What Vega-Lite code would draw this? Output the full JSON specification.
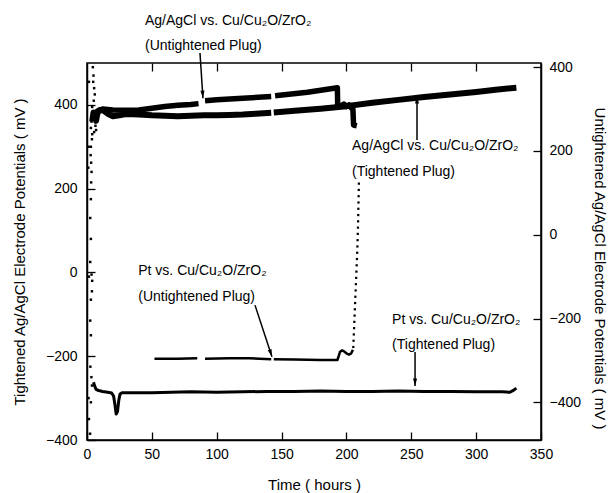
{
  "$schema": "https://vega.github.io/schema/vega-lite/v6.json",
  "width": 454,
  "height": 377,
  "autosize": "none",
  "padding": {"left": 87, "top": 63, "right": 71, "bottom": 53},
  "background": "white",
  "config": {
    "view": {"stroke": "black", "strokeWidth": 1.5},
    "axis": {
      "labelFont": "Liberation Sans", "labelFontSize": 14, "labelColor": "black",
      "titleFont": "Liberation Sans", "titleFontSize": 15, "titleFontWeight": "normal", "titleColor": "black",
      "tickColor": "black", "tickSize": -8, "tickWidth": 1.3,
      "domainColor": "black", "domainWidth": 1.5, "grid": false, "labelFlush": false
    },
    "text": {"font": "Liberation Sans", "fontSize": 14, "color": "black"}
  },
  "datasets": {
    "agTight": [
      {"t": 4, "v": 360, "seg": 1}, {"t": 5, "v": 382, "seg": 1}, {"t": 6, "v": 370, "seg": 1}, {"t": 7, "v": 362, "seg": 1},
      {"t": 8, "v": 380, "seg": 1}, {"t": 10, "v": 388, "seg": 1}, {"t": 13, "v": 386, "seg": 1}, {"t": 16, "v": 379, "seg": 1},
      {"t": 20, "v": 373, "seg": 1}, {"t": 25, "v": 375, "seg": 1}, {"t": 30, "v": 378, "seg": 1}, {"t": 40, "v": 377, "seg": 1},
      {"t": 50, "v": 375, "seg": 1}, {"t": 60, "v": 374, "seg": 1}, {"t": 70, "v": 373, "seg": 1}, {"t": 80, "v": 374, "seg": 1},
      {"t": 90, "v": 375, "seg": 1}, {"t": 100, "v": 375, "seg": 1}, {"t": 110, "v": 376, "seg": 1}, {"t": 120, "v": 377, "seg": 1},
      {"t": 130, "v": 379, "seg": 1}, {"t": 142, "v": 381, "seg": 1},
      {"t": 144, "v": 382, "seg": 2}, {"t": 160, "v": 386, "seg": 2}, {"t": 180, "v": 391, "seg": 2}, {"t": 200, "v": 397, "seg": 2},
      {"t": 220, "v": 405, "seg": 2}, {"t": 240, "v": 412, "seg": 2}, {"t": 260, "v": 419, "seg": 2}, {"t": 280, "v": 425, "seg": 2},
      {"t": 300, "v": 431, "seg": 2}, {"t": 315, "v": 436, "seg": 2}, {"t": 331, "v": 441, "seg": 2}
    ],
    "ptTight": [
      {"t": 5, "v": -262}, {"t": 6, "v": -272}, {"t": 7, "v": -279}, {"t": 9, "v": -282}, {"t": 12, "v": -284},
      {"t": 16, "v": -286}, {"t": 19, "v": -288}, {"t": 20.5, "v": -295}, {"t": 21.5, "v": -315}, {"t": 22.5, "v": -338},
      {"t": 23.5, "v": -332}, {"t": 24.5, "v": -305}, {"t": 25.5, "v": -290}, {"t": 27, "v": -287}, {"t": 35, "v": -287},
      {"t": 50, "v": -287}, {"t": 65, "v": -286}, {"t": 80, "v": -285}, {"t": 100, "v": -286}, {"t": 120, "v": -285},
      {"t": 140, "v": -284}, {"t": 160, "v": -284}, {"t": 180, "v": -283}, {"t": 200, "v": -284}, {"t": 220, "v": -284},
      {"t": 240, "v": -283}, {"t": 260, "v": -284}, {"t": 280, "v": -284}, {"t": 300, "v": -285}, {"t": 320, "v": -285},
      {"t": 326, "v": -286}, {"t": 329, "v": -281}, {"t": 331, "v": -276}
    ],
    "transient": [
      {"t": 4.5, "v": 490}, {"t": 5, "v": 470}, {"t": 4.8, "v": 455}, {"t": 5.5, "v": 440}, {"t": 6, "v": 425},
      {"t": 5.2, "v": 410}, {"t": 4, "v": 395}, {"t": 3.5, "v": 360}, {"t": 3, "v": 345}, {"t": 4, "v": 330},
      {"t": 3.8, "v": 318}, {"t": 3, "v": 300}, {"t": 2.8, "v": 280}, {"t": 3.2, "v": 262}, {"t": 3.5, "v": 240},
      {"t": 3.2, "v": 215}, {"t": 3, "v": 175}, {"t": 2.5, "v": 130}, {"t": 3, "v": 80}, {"t": 2.5, "v": 25},
      {"t": 3.5, "v": -5}, {"t": 4, "v": -20}, {"t": 3.8, "v": -45}, {"t": 3, "v": -65}, {"t": 2.5, "v": -115},
      {"t": 3, "v": -150}, {"t": 2.6, "v": -225}, {"t": 3.4, "v": -250}, {"t": 3.8, "v": -270}, {"t": 3, "v": -310},
      {"t": 2.4, "v": -385}, {"t": 1.5, "v": -350}, {"t": 1.2, "v": -300}, {"t": 1.5, "v": -10}, {"t": 1.3, "v": 300},
      {"t": 1.5, "v": 455}, {"t": 1, "v": 250}, {"t": 6.5, "v": 350}, {"t": 7, "v": 340}, {"t": 5.5, "v": 335}
    ],
    "agUntight": [
      {"t": 5, "v": 285, "seg": 1}, {"t": 8, "v": 295, "seg": 1}, {"t": 12, "v": 300, "seg": 1}, {"t": 20, "v": 298, "seg": 1},
      {"t": 30, "v": 297, "seg": 1}, {"t": 40, "v": 298, "seg": 1}, {"t": 50, "v": 302, "seg": 1}, {"t": 60, "v": 306, "seg": 1},
      {"t": 70, "v": 309, "seg": 1}, {"t": 80, "v": 311, "seg": 1}, {"t": 86, "v": 313, "seg": 1},
      {"t": 91, "v": 320, "seg": 2}, {"t": 100, "v": 322, "seg": 2}, {"t": 120, "v": 326, "seg": 2}, {"t": 142, "v": 330, "seg": 2},
      {"t": 145, "v": 332, "seg": 3}, {"t": 170, "v": 340, "seg": 3}, {"t": 193, "v": 351, "seg": 3}, {"t": 193.3, "v": 305, "seg": 3},
      {"t": 196, "v": 308, "seg": 3}, {"t": 198, "v": 312, "seg": 3}, {"t": 200, "v": 306, "seg": 3}, {"t": 202, "v": 310, "seg": 3},
      {"t": 204, "v": 302, "seg": 3}, {"t": 205, "v": 300, "seg": 3}, {"t": 205.5, "v": 262, "seg": 3}, {"t": 208, "v": 260, "seg": 3}
    ],
    "ptUntight": [
      {"t": 52, "v": -296, "seg": 1}, {"t": 70, "v": -296, "seg": 1}, {"t": 85, "v": -295, "seg": 1},
      {"t": 91, "v": -296, "seg": 2}, {"t": 110, "v": -295, "seg": 2}, {"t": 125, "v": -295, "seg": 2}, {"t": 142, "v": -297, "seg": 2},
      {"t": 144, "v": -297, "seg": 3}, {"t": 160, "v": -298, "seg": 3}, {"t": 180, "v": -299, "seg": 3}, {"t": 193, "v": -299, "seg": 3},
      {"t": 194, "v": -290, "seg": 3}, {"t": 195, "v": -280, "seg": 3}, {"t": 196.5, "v": -276, "seg": 3}, {"t": 198, "v": -278, "seg": 3},
      {"t": 200, "v": -283, "seg": 3}, {"t": 202, "v": -286, "seg": 3}, {"t": 203.5, "v": -284, "seg": 3}, {"t": 205, "v": -275, "seg": 3}
    ],
    "ptRise": [
      {"t": 205.3, "v": -268}, {"t": 205.5, "v": -253}, {"t": 205.7, "v": -238}, {"t": 205.9, "v": -223}, {"t": 206.1, "v": -208},
      {"t": 206.3, "v": -193}, {"t": 206.5, "v": -178}, {"t": 206.7, "v": -163}, {"t": 206.9, "v": -148}, {"t": 207.1, "v": -133},
      {"t": 207.3, "v": -118}, {"t": 207.5, "v": -103}, {"t": 207.7, "v": -88}, {"t": 207.9, "v": -73}, {"t": 208.1, "v": -58},
      {"t": 208.3, "v": -43}, {"t": 208.45, "v": -28}, {"t": 208.6, "v": -13}, {"t": 208.75, "v": 2}, {"t": 208.9, "v": 17},
      {"t": 209.0, "v": 32}, {"t": 209.1, "v": 47}, {"t": 209.2, "v": 62}, {"t": 209.3, "v": 77}, {"t": 209.4, "v": 92},
      {"t": 209.5, "v": 107}, {"t": 209.6, "v": 122}
    ],
    "labels": [
      {"t": 44.7, "v": 600, "label": "Ag/AgCl vs. Cu/Cu₂O/ZrO₂"},
      {"t": 44.7, "v": 541, "label": "(Untightened Plug)"},
      {"t": 204.3, "v": 302, "label": "Ag/AgCl vs. Cu/Cu₂O/ZrO₂"},
      {"t": 204.3, "v": 240, "label": "(Tightened Plug)"},
      {"t": 39.5, "v": 4, "label": "Pt vs. Cu/Cu₂O/ZrO₂"},
      {"t": 39.5, "v": -58, "label": "(Untightened Plug)"},
      {"t": 235.2, "v": -113, "label": "Pt vs. Cu/Cu₂O/ZrO₂"},
      {"t": 235.2, "v": -173, "label": "(Tightened Plug)"}
    ],
    "arrows": [
      {"id": "A", "t": 87.1, "v": 524, "t2": 89.4, "v2": 416},
      {"id": "B", "t": 254.4, "v": 316, "t2": 254.4, "v2": 421},
      {"id": "C", "t": 129.5, "v": -78, "t2": 142.6, "v2": -201},
      {"id": "D", "t": 252.9, "v": -190, "t2": 252.9, "v2": -271}
    ]
  },
  "layer": [
    {
      "layer": [
        {
          "data": {"name": "agTight"},
          "mark": {"type": "line", "stroke": "black", "strokeWidth": 6, "strokeJoin": "round"},
          "encoding": {
            "x": {"field": "t", "type": "quantitative", "scale": {"domain": [0, 350], "nice": false},
              "axis": {"orient": "bottom", "values": [0, 50, 100, 150, 200, 250, 300, 350], "title": "Time ( hours )", "labelPadding": 15, "titlePadding": 16, "labelFlush": false}},
            "y": {"field": "v", "type": "quantitative", "scale": {"domain": [-400, 500], "nice": false, "zero": false},
              "axis": {"orient": "left", "values": [-400, -200, 0, 200, 400], "title": "Tightened Ag/AgCl Electrode Potentials ( mV )", "labelPadding": 18, "titlePadding": 18, "labelFlush": false}},
            "detail": {"field": "seg"}
          }
        },
        {
          "data": {"name": "ptTight"},
          "mark": {"type": "line", "stroke": "black", "strokeWidth": 3, "strokeJoin": "round"},
          "encoding": {
            "x": {"field": "t", "type": "quantitative"},
            "y": {"field": "v", "type": "quantitative"}
          }
        },
        {
          "data": {"name": "transient"},
          "mark": {"type": "point", "shape": "square", "filled": true, "color": "black", "size": 6, "opacity": 1},
          "encoding": {
            "x": {"field": "t", "type": "quantitative"},
            "y": {"field": "v", "type": "quantitative"}
          }
        },
        {
          "data": {"name": "labels"},
          "mark": {"type": "text", "align": "left", "baseline": "middle", "font": "Liberation Sans", "fontSize": 14, "color": "black"},
          "encoding": {
            "x": {"field": "t", "type": "quantitative"},
            "y": {"field": "v", "type": "quantitative"},
            "text": {"field": "label"}
          }
        },
        {
          "data": {"name": "arrows"},
          "mark": {"type": "rule", "color": "black", "strokeWidth": 1.5},
          "encoding": {
            "x": {"field": "t", "type": "quantitative"},
            "y": {"field": "v", "type": "quantitative"},
            "x2": {"field": "t2"},
            "y2": {"field": "v2"}
          }
        },
        {
          "data": {"name": "arrows"},
          "transform": [{"filter": "datum.id === 'A'"}],
          "mark": {"type": "point", "shape": "M0,0L-0.27,-1L0.27,-1Z", "filled": true, "color": "black", "opacity": 1, "size": 225, "angle": 356},
          "encoding": {
            "x": {"field": "t2", "type": "quantitative"},
            "y": {"field": "v2", "type": "quantitative"}
          }
        },
        {
          "data": {"name": "arrows"},
          "transform": [{"filter": "datum.id === 'B'"}],
          "mark": {"type": "point", "shape": "M0,0L-0.27,-1L0.27,-1Z", "filled": true, "color": "black", "opacity": 1, "size": 225, "angle": 180},
          "encoding": {
            "x": {"field": "t2", "type": "quantitative"},
            "y": {"field": "v2", "type": "quantitative"}
          }
        },
        {
          "data": {"name": "arrows"},
          "transform": [{"filter": "datum.id === 'C'"}],
          "mark": {"type": "point", "shape": "M0,0L-0.27,-1L0.27,-1Z", "filled": true, "color": "black", "opacity": 1, "size": 225, "angle": 342},
          "encoding": {
            "x": {"field": "t2", "type": "quantitative"},
            "y": {"field": "v2", "type": "quantitative"}
          }
        },
        {
          "data": {"name": "arrows"},
          "transform": [{"filter": "datum.id === 'D'"}],
          "mark": {"type": "point", "shape": "M0,0L-0.27,-1L0.27,-1Z", "filled": true, "color": "black", "opacity": 1, "size": 225, "angle": 0},
          "encoding": {
            "x": {"field": "t2", "type": "quantitative"},
            "y": {"field": "v2", "type": "quantitative"}
          }
        }
      ]
    },
    {
      "layer": [
        {
          "data": {"name": "agUntight"},
          "mark": {"type": "line", "stroke": "black", "strokeWidth": 5.5, "strokeJoin": "round"},
          "encoding": {
            "x": {"field": "t", "type": "quantitative", "scale": {"domain": [0, 350], "nice": false},
              "axis": {"orient": "top", "values": [50, 100, 150, 200, 250, 300], "labels": false, "title": null, "domain": false}},
            "y": {"field": "v", "type": "quantitative", "scale": {"domain": [-490, 410], "nice": false, "zero": false},
              "axis": {"orient": "right", "values": [-400, -200, 0, 200, 400], "title": "Untightened Ag/AgCl Electrode Potentials ( mV )", "labelPadding": 16, "titlePadding": 11, "titleY": 205, "labelFlush": false}},
            "detail": {"field": "seg"}
          }
        },
        {
          "data": {"name": "ptUntight"},
          "mark": {"type": "line", "stroke": "black", "strokeWidth": 2.5, "strokeJoin": "round"},
          "encoding": {
            "x": {"field": "t", "type": "quantitative"},
            "y": {"field": "v", "type": "quantitative"},
            "detail": {"field": "seg"}
          }
        },
        {
          "data": {"name": "ptRise"},
          "mark": {"type": "point", "shape": "square", "filled": true, "color": "black", "size": 5, "opacity": 1},
          "encoding": {
            "x": {"field": "t", "type": "quantitative"},
            "y": {"field": "v", "type": "quantitative"}
          }
        }
      ]
    }
  ],
  "resolve": {"scale": {"x": "independent", "y": "independent"}}
}
